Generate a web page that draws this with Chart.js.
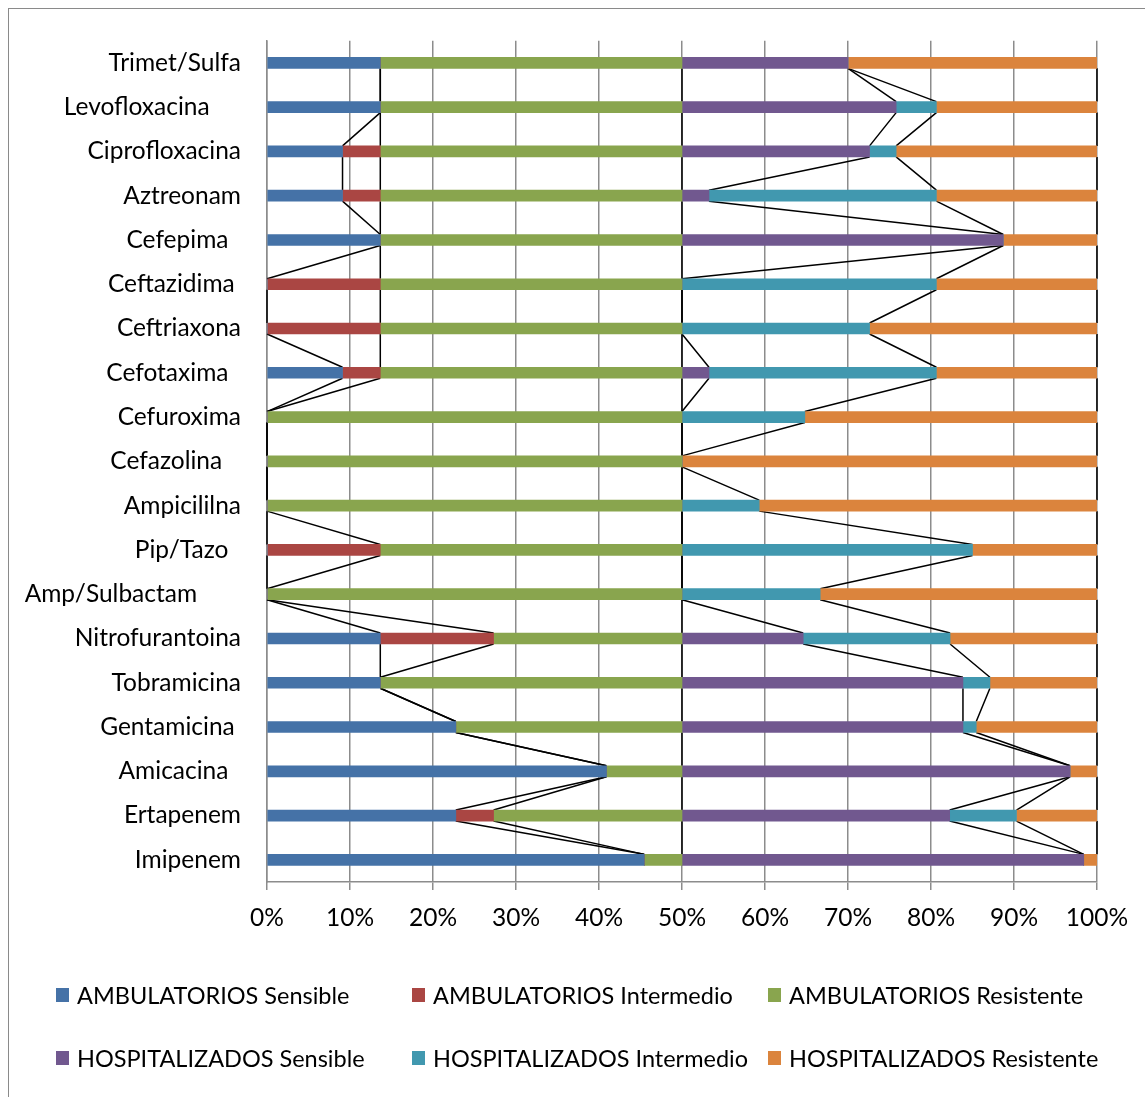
<!DOCTYPE html>
<html>
<head>
<meta charset="utf-8">
<script src="https://cdn.jsdelivr.net/npm/chart.js@4.4.1/dist/chart.umd.min.js"></script>
<style>
  html, body { margin: 0; padding: 0; background: #fff; overflow: hidden; }
  body { width: 1145px; height: 1097px; position: relative; font-family: Lato, 'Open Sans', sans-serif; }
  #frame { position: absolute; left: 8px; top: 8px; width: 1300px; height: 1300px; border: 1.5px solid #8a8a8a; box-sizing: border-box; }
  #wrap { position: absolute; left: 0; top: 0; width: 1145px; height: 945px; }
  #legend { position: absolute; left: 0; top: 0; width: 1145px; height: 1097px; pointer-events: none; }
  .item { position: absolute; display: flex; align-items: center; font-size: 23.5px; color: #000; white-space: nowrap; }
  .box { width: 13px; height: 14px; margin-right: 8px; }
</style>
</head>
<body>
<div id="frame"></div>
<div id="wrap"><canvas id="chart"></canvas></div>
<div id="legend"></div>
<script>
// categories top to bottom (trailing spaces as in the original labels)
const categories = ['Trimet/Sulfa', 'Levofloxacina     ', 'Ciprofloxacina', 'Aztreonam', 'Cefepima  ',
  'Ceftazidima ', 'Ceftriaxona', 'Cefotaxima  ', 'Cefuroxima', 'Cefazolina   ', 'Ampicililna',
  'Pip/Tazo  ', 'Amp/Sulbactam       ', 'Nitrofurantoina', 'Tobramicina', 'Gentamicina ',
  'Amicacina  ', 'Ertapenem', 'Imipenem'];

// percent within each group
const ambSensible    = [27.3, 27.3, 18.2, 18.2, 27.3, 0, 0, 18.2, 0, 0, 0, 0, 0, 27.3, 27.3, 45.5, 81.8, 45.5, 90.9];
const ambIntermedio  = [0, 0, 9.1, 9.1, 0, 27.3, 27.3, 9.1, 0, 0, 0, 27.3, 0, 27.3, 0, 0, 0, 9.1, 0];
const ambResistente  = [72.7, 72.7, 72.7, 72.7, 72.7, 72.7, 72.7, 72.7, 100, 100, 100, 72.7, 100, 45.4, 72.7, 54.5, 18.2, 45.4, 9.1];
const hospSensible   = [40, 51.6, 45.2, 6.5, 77.4, 0, 0, 6.5, 0, 0, 0, 0, 0, 29.2, 67.7, 67.7, 93.5, 64.5, 96.8];
const hospIntermedio = [0, 9.7, 6.4, 54.8, 0, 61.3, 45.2, 54.8, 29.6, 0, 18.6, 70, 33.3, 35.4, 6.5, 3.2, 0, 16.1, 0];
const hospResistente = [60, 38.7, 48.4, 38.7, 22.6, 38.7, 54.8, 38.7, 70.4, 100, 81.4, 30, 66.7, 35.4, 25.8, 29.1, 6.5, 19.4, 3.2];

const seriesNames = ['AMBULATORIOS Sensible', 'AMBULATORIOS Intermedio', 'AMBULATORIOS Resistente',
  'HOSPITALIZADOS Sensible', 'HOSPITALIZADOS Intermedio', 'HOSPITALIZADOS Resistente'];
const seriesColors = ['#4572A7', '#AA4643', '#89A54E', '#71588F', '#4198AF', '#DB843D'];
const seriesValues = [ambSensible, ambIntermedio, ambResistente, hospSensible, hospIntermedio, hospResistente];

const FONT = 'Lato, "Open Sans", sans-serif';

// Excel style series lines: join bar ends of neighbouring categories
const seriesLines = {
  id: 'seriesLines',
  beforeDatasetsDraw(chart) {
    const ctx = chart.ctx;
    ctx.save();
    ctx.strokeStyle = '#000';
    ctx.lineWidth = 1.5;
    chart.data.datasets.forEach((ds, d) => {
      const bars = chart.getDatasetMeta(d).data;
      ctx.beginPath();
      for (let i = 0; i < bars.length - 1; i++) {
        const a = bars[i];
        const b = bars[i + 1];
        ctx.moveTo(a.x, a.y + a.height / 2);
        ctx.lineTo(b.x, b.y - b.height / 2);
      }
      ctx.stroke();
    });
    ctx.restore();
  },
};

function initChart() {
  const canvas = document.getElementById('chart');
  new Chart(canvas, {
    type: 'bar',
    data: {
      labels: categories,
      datasets: seriesValues.map((vals, i) => ({
        label: seriesNames[i],
        data: vals,
        backgroundColor: seriesColors[i],
        borderWidth: 0,
        barThickness: 11,
      })),
    },
    options: {
      indexAxis: 'y',
      responsive: true,
      maintainAspectRatio: false,
      animation: false,
      layout: { padding: { top: 39, right: 48, left: 0, bottom: 0 } },
      plugins: {
        legend: { display: false },
        tooltip: { enabled: false },
      },
      scales: {
        x: {
          stacked: true,
          min: 0,
          max: 200,
          grid: { color: '#8c8c8c', lineWidth: 1.5, tickLength: 8 },
          border: { color: '#8c8c8c', width: 1.5 },
          ticks: {
            stepSize: 20,
            color: '#000',
            padding: 13,
            maxRotation: 0,
            font: { family: FONT, size: 24.5 },
            callback: (v) => (v / 2) + '%',
          },
          afterFit(scale) { scale.height = 63; },
        },
        y: {
          stacked: true,
          grid: { display: false, drawTicks: false },
          border: { color: '#8c8c8c', width: 1.5 },
          ticks: { color: '#000', padding: 26, font: { family: FONT, size: 24.5 } },
          afterFit(scale) { scale.width = 267; },
        },
      },
    },
    plugins: [seriesLines],
  });
}

function initLegend() {
  const legend = document.getElementById('legend');
  const cols = [56, 412, 768];
  const rows = [995, 1058];
  seriesNames.forEach((name, i) => {
    const item = document.createElement('div');
    item.className = 'item';
    item.style.left = cols[i % 3] + 'px';
    item.style.top = (rows[Math.floor(i / 3)] - 16) + 'px';
    item.style.height = '32px';
    const box = document.createElement('span');
    box.className = 'box';
    box.style.background = seriesColors[i];
    const text = document.createElement('span');
    text.textContent = name;
    item.appendChild(box);
    item.appendChild(text);
    legend.appendChild(item);
  });
}

initChart();
initLegend();
</script>
</body>
</html>
